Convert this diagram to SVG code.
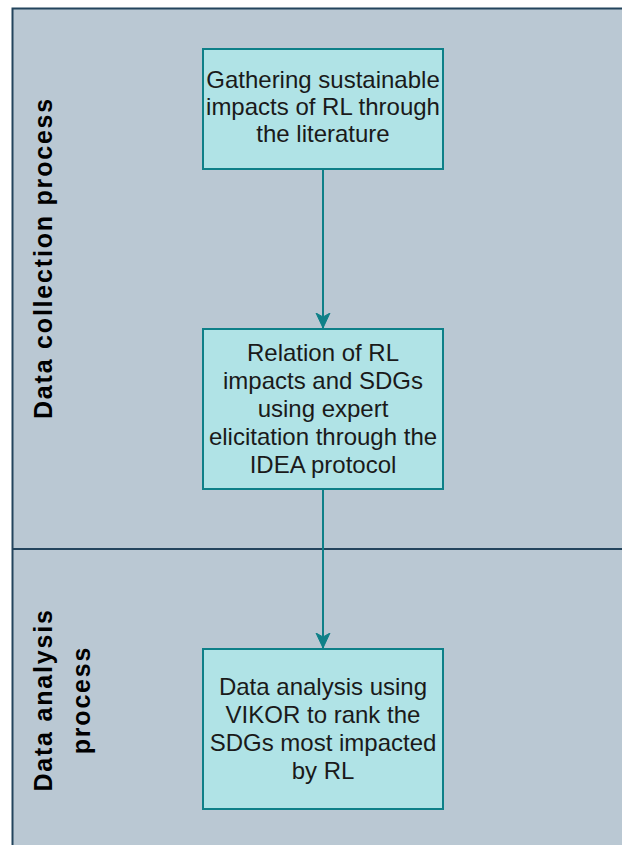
<svg xmlns="http://www.w3.org/2000/svg" width="622" height="845" viewBox="0 0 622 845">
<defs>
<style>
.pool{fill:#bac8d3;stroke:#23445d;stroke-width:2}
.box{fill:#b0e3e6;stroke:#0e8088;stroke-width:2}
.t{font-family:"Liberation Sans",Arial,sans-serif;font-size:24px;fill:#1a1a1a;text-anchor:middle}
.lane{font-family:"Liberation Sans",Arial,sans-serif;font-size:25px;font-weight:bold;fill:#000;text-anchor:middle;letter-spacing:1.8px}
.edge{fill:none;stroke:#0e8088;stroke-width:2}
</style>
<marker id="arr" viewBox="0 0 16 16" refX="15" refY="8" markerWidth="16" markerHeight="16" markerUnits="userSpaceOnUse" orient="auto">
<path d="M0,1 L15,8 L0,15 L4,8 Z" fill="#0e8088" stroke="#0e8088" stroke-width="1"/>
</marker>
</defs>
<rect width="622" height="845" fill="#ffffff"/>
<g id="pool">
<rect class="pool" x="12.5" y="8.5" width="640" height="860"/>
<line x1="12.5" y1="549" x2="640" y2="549" stroke="#23445d" stroke-width="2"/>
</g>
<g id="lane-collection">
<text class="lane" transform="translate(52,258) rotate(-90)">Data collection process</text>
</g>
<g id="lane-analysis">
<text class="lane" transform="translate(52,700) rotate(-90)">Data analysis</text>
<text class="lane" transform="translate(90,700) rotate(-90)">process</text>
</g>
<g id="connectors">
<path class="edge" d="M323,169 L323,328" marker-end="url(#arr)"/>
<path class="edge" d="M323,489 L323,648" marker-end="url(#arr)"/>
</g>
<g id="n1">
<rect class="box" x="203" y="49" width="240" height="120"/>
<text class="t" x="323" y="88">Gathering sustainable</text>
<text class="t" x="323" y="115">impacts of RL through</text>
<text class="t" x="323" y="142">the literature</text>
</g>
<g id="n2">
<rect class="box" x="203" y="329" width="240" height="160"/>
<text class="t" x="323" y="361">Relation of RL</text>
<text class="t" x="323" y="389">impacts and SDGs</text>
<text class="t" x="323" y="417">using expert</text>
<text class="t" x="323" y="445">elicitation through the</text>
<text class="t" x="323" y="473">IDEA protocol</text>
</g>
<g id="n3">
<rect class="box" x="203" y="649" width="240" height="160"/>
<text class="t" x="323" y="695">Data analysis using</text>
<text class="t" x="323" y="723">VIKOR to rank the</text>
<text class="t" x="323" y="751">SDGs most impacted</text>
<text class="t" x="323" y="779">by RL</text>
</g>
</svg>
